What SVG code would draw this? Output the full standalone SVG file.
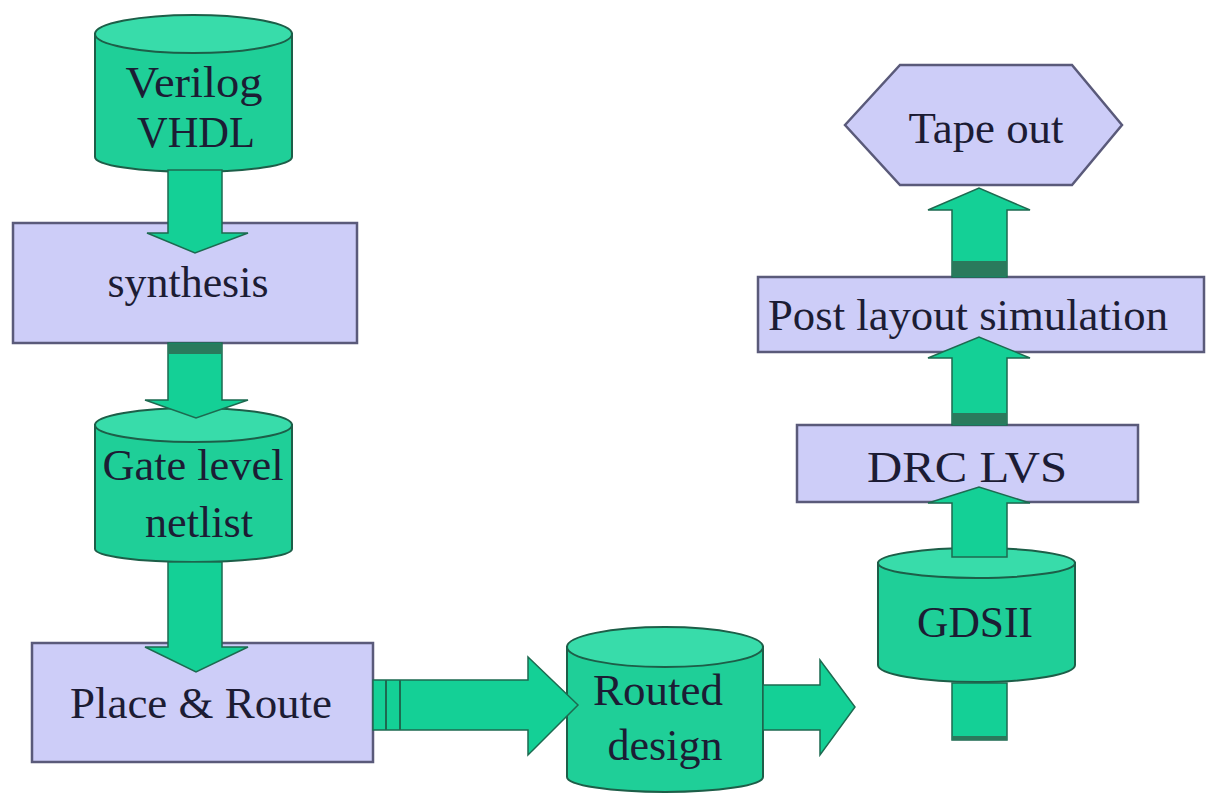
<svg xmlns="http://www.w3.org/2000/svg" width="1207" height="795" viewBox="0 0 1207 795">
<style>
.box{fill:#cdcdf8;stroke:#5a5a7a;stroke-width:2.5}
.cyl{fill:#1fcf98;stroke:#1d5e48;stroke-width:2}
.cyltop{fill:#38dcaa;stroke:#1d5e48;stroke-width:2}
.arr{fill:#14d096;stroke:#1d6a50;stroke-width:1.5;stroke-linejoin:miter}
.band{fill:#2a7a5c}
.t{font-family:"Liberation Serif","Times New Roman",serif;font-size:44px;fill:#1c1c34;text-anchor:middle}
</style>
<rect width="1207" height="795" fill="#ffffff"/>
<g id="nodes">
<g id="verilog">
<path class="cyl" d="M95,34 L95,157 A98.5,15 0 0 0 292,157 L292,34 Z"/>
<ellipse class="cyltop" cx="193.5" cy="34" rx="98.5" ry="19"/>
<text class="t" x="194" y="97" textLength="137" lengthAdjust="spacingAndGlyphs">Verilog</text>
<text class="t" x="196" y="147" textLength="118" lengthAdjust="spacingAndGlyphs">VHDL</text>
</g>
<g id="synthesis">
<rect class="box" x="13" y="223" width="344" height="120"/>
<text class="t" x="188" y="297" textLength="161" lengthAdjust="spacingAndGlyphs">synthesis</text>
</g>
<g id="gate">
<path class="cyl" d="M95,425 L95,549 A98.5,13 0 0 0 292,549 L292,425 Z"/>
<ellipse class="cyltop" cx="193.5" cy="425" rx="98.5" ry="17"/>
<text class="t" x="193" y="480" textLength="181" lengthAdjust="spacingAndGlyphs">Gate level</text>
<text class="t" x="199" y="537" textLength="108" lengthAdjust="spacingAndGlyphs">netlist</text>
</g>
<g id="place">
<rect class="box" x="32" y="643" width="341" height="119"/>
<text class="t" x="201" y="718" textLength="262" lengthAdjust="spacingAndGlyphs">Place &amp; Route</text>
</g>
<g id="routed">
<path class="cyl" d="M567,647 L567,777 A98,15 0 0 0 763,777 L763,647 Z"/>
<ellipse class="cyltop" cx="665" cy="647" rx="98" ry="20"/>
<text class="t" x="658" y="705" textLength="130" lengthAdjust="spacingAndGlyphs">Routed</text>
<text class="t" x="665" y="760" textLength="115" lengthAdjust="spacingAndGlyphs">design</text>
</g>
<g id="gdsii">
<path class="cyl" d="M878,563 L878,665 A98.5,17 0 0 0 1075,665 L1075,563 Z"/>
<ellipse class="cyltop" cx="976.5" cy="563" rx="98.5" ry="15"/>
<text class="t" x="975" y="637" textLength="116" lengthAdjust="spacingAndGlyphs">GDSII</text>
</g>
<g id="drc">
<rect class="box" x="797" y="425" width="341" height="77"/>
<text class="t" x="967" y="482" textLength="200" lengthAdjust="spacingAndGlyphs">DRC LVS</text>
</g>
<g id="post">
<rect class="box" x="758" y="277" width="446" height="75"/>
<text class="t" x="968" y="330" textLength="400" lengthAdjust="spacingAndGlyphs">Post layout simulation</text>
</g>
<g id="tapeout">
<polygon class="box" points="845,125 900,65 1072,65 1122,125 1072,185 900,185"/>
<text class="t" x="986" y="143" textLength="155" lengthAdjust="spacingAndGlyphs">Tape out</text>
</g>
</g>
<g id="connectors">
<polygon class="arr" points="168,170 222,170 222,233 248,233 195,253 147,233 168,233"/>
<polygon class="arr" points="168,343 222,343 222,400 248,400 196,418 145,400 168,400"/>
<rect class="band" x="168" y="344" width="54" height="10"/>
<polygon class="arr" points="168,562 222,562 222,647 248,647 196,672 145,647 168,647"/>
<polygon class="arr" points="373,680 528,680 528,657 578,705 528,755 528,730 373,730"/>
<line x1="386" y1="680" x2="386" y2="730" stroke="#1d6a50" stroke-width="2"/>
<line x1="400" y1="680" x2="400" y2="730" stroke="#1d6a50" stroke-width="2"/>
<polygon class="arr" points="763,685 820,685 820,660 855,707 820,755 820,730 763,730"/>
<polygon class="arr" points="952,557 1007,557 1007,503 1030,503 979,487 928,503 952,503"/>
<polygon class="arr" points="952,425 1007,425 1007,358 1030,358 979,337 928,358 952,358"/>
<rect class="band" x="952" y="413" width="55" height="11"/>
<polygon class="arr" points="952,277 1007,277 1007,210 1030,210 979,188 928,210 952,210"/>
<rect class="band" x="952" y="261" width="55" height="15"/>
<rect class="arr" x="952" y="683" width="55" height="57"/>
<rect class="band" x="952" y="736" width="55" height="4"/>
</g>
</svg>
